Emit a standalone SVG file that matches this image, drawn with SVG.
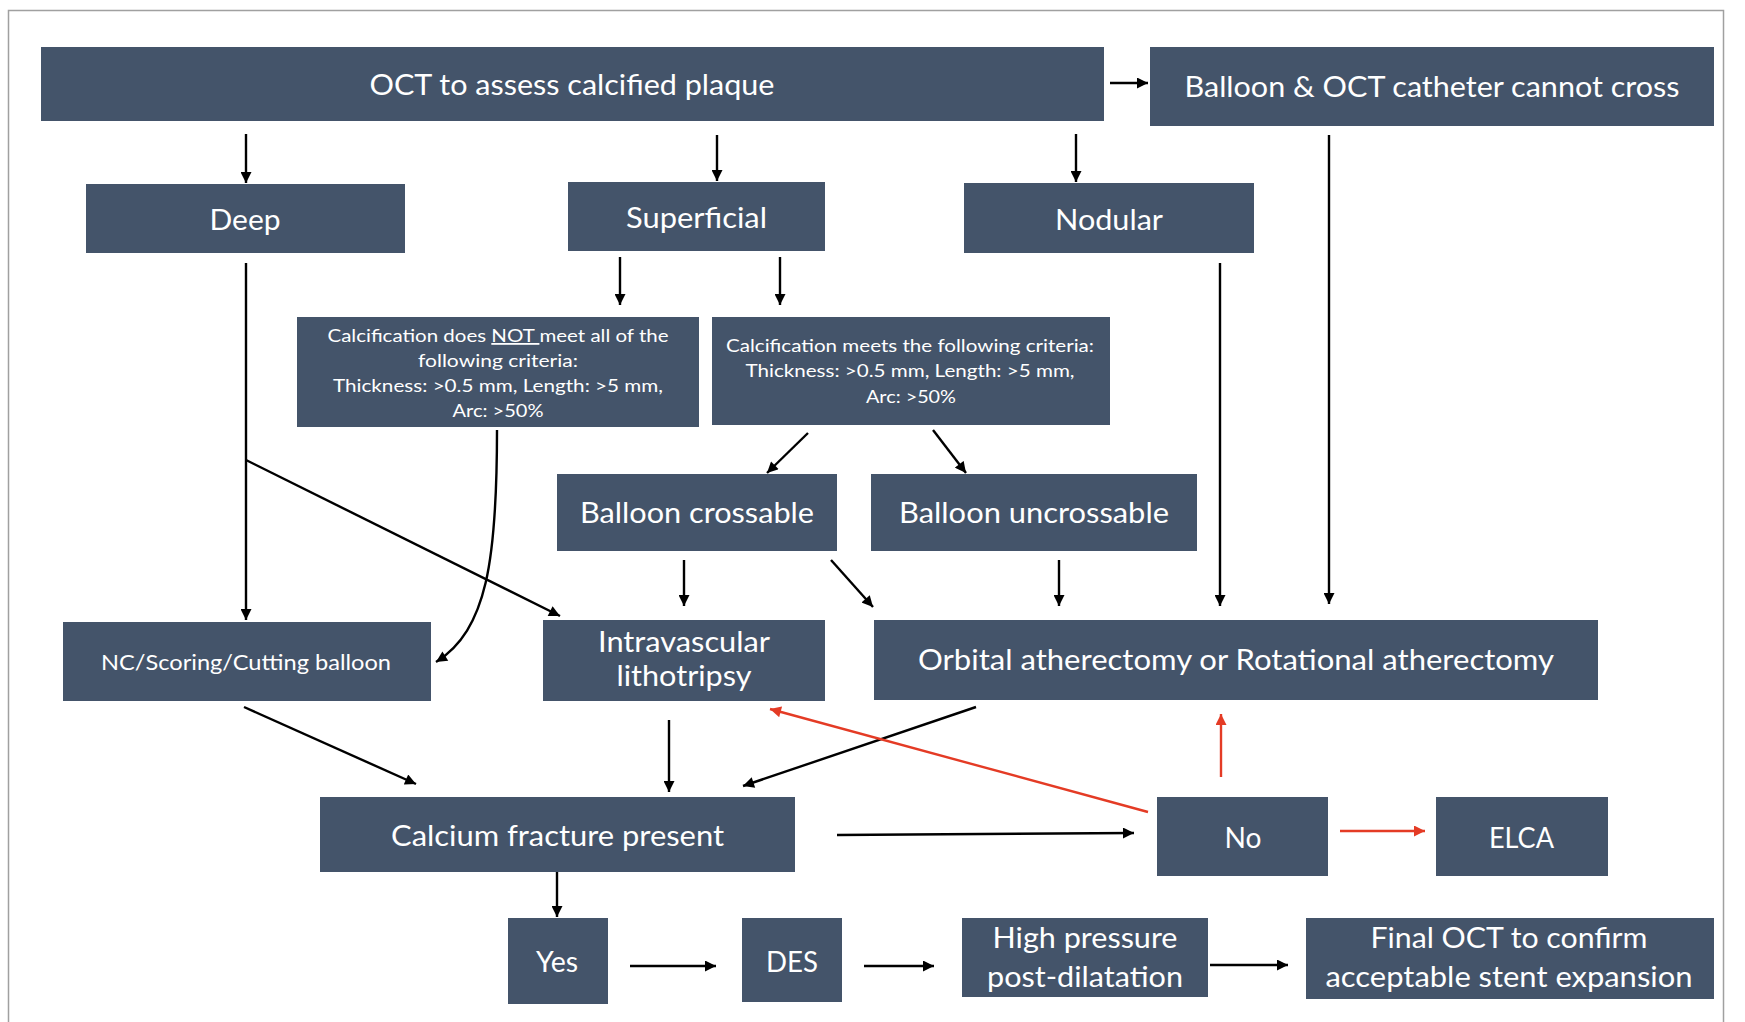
<svg xmlns="http://www.w3.org/2000/svg" width="1745" height="1022" viewBox="0 0 1745 1022">
<defs>
<style>
.n{fill:#44546A}
.t{fill:#FFFFFF;font-family:Lato,"Open Sans","Liberation Sans",sans-serif;text-anchor:middle}
.big{font-size:29px}
.mid{font-size:22px}
.sm{font-size:18px}
.c{fill:none;stroke:#000;stroke-width:2.4}
.r{fill:none;stroke:#E43B25;stroke-width:2.4}
</style>
<marker id="ah" viewBox="0 0 10 10" refX="10" refY="5" markerWidth="12" markerHeight="11" markerUnits="userSpaceOnUse" orient="auto"><path d="M0,0 L10,5 L0,10 z" fill="#000"/></marker>
<marker id="ahr" viewBox="0 0 10 10" refX="10" refY="5" markerWidth="12" markerHeight="11" markerUnits="userSpaceOnUse" orient="auto"><path d="M0,0 L10,5 L0,10 z" fill="#E43B25"/></marker>
</defs>
<rect width="1745" height="1022" fill="#fff"/>
<rect x="8.5" y="10.5" width="1715" height="1040" fill="none" stroke="#A0A0A0" stroke-width="1.5"/>

<g id="connectors">
<path class="c" d="M1110,83 L1148,83" marker-end="url(#ah)"/>
<path class="c" d="M246,134 L246,183" marker-end="url(#ah)"/>
<path class="c" d="M717,135 L717,181" marker-end="url(#ah)"/>
<path class="c" d="M1076,134 L1076,182" marker-end="url(#ah)"/>
<path class="c" d="M620,257 L620,305" marker-end="url(#ah)"/>
<path class="c" d="M780,257 L780,305" marker-end="url(#ah)"/>
<path class="c" d="M246,263 L246,620" marker-end="url(#ah)"/>
<path class="c" d="M246,460 L560,616" marker-end="url(#ah)"/>
<path class="c" d="M497,430 C497,560 487,630 436,662" marker-end="url(#ah)"/>
<path class="c" d="M808,433 L767,473" marker-end="url(#ah)"/>
<path class="c" d="M933,430 L966,473" marker-end="url(#ah)"/>
<path class="c" d="M1220,263 L1220,606" marker-end="url(#ah)"/>
<path class="c" d="M1329,135 L1329,604" marker-end="url(#ah)"/>
<path class="c" d="M684,560 L684,606" marker-end="url(#ah)"/>
<path class="c" d="M831,560 L873,607" marker-end="url(#ah)"/>
<path class="c" d="M1059,560 L1059,606" marker-end="url(#ah)"/>
<path class="c" d="M244,707 L416,784" marker-end="url(#ah)"/>
<path class="c" d="M669,720 L669,792" marker-end="url(#ah)"/>
<path class="c" d="M976,707 L743,786" marker-end="url(#ah)"/>
<path class="c" d="M837,835 L1134,833" marker-end="url(#ah)"/>
<path class="c" d="M557,872 L557,917" marker-end="url(#ah)"/>
<path class="c" d="M630,966 L716,966" marker-end="url(#ah)"/>
<path class="c" d="M864,966 L934,966" marker-end="url(#ah)"/>
<path class="c" d="M1210,965 L1288,965" marker-end="url(#ah)"/>
<path class="r" d="M1148,812 L770,709" marker-end="url(#ahr)"/>
<path class="r" d="M1221,777 L1221,714" marker-end="url(#ahr)"/>
<path class="r" d="M1340,831 L1425,831" marker-end="url(#ahr)"/>
</g>

<g id="oct"><rect class="n" x="41" y="47" width="1063" height="74"/><text class="t big" x="572" y="95" textLength="405" lengthAdjust="spacingAndGlyphs">OCT to assess calcified plaque</text></g>
<g id="cannotcross"><rect class="n" x="1150" y="47" width="564" height="79"/><text class="t big" x="1432" y="97" textLength="495" lengthAdjust="spacingAndGlyphs">Balloon &amp; OCT catheter cannot cross</text></g>
<g id="deep"><rect class="n" x="86" y="184" width="319" height="69"/><text class="t big" x="245" y="230" textLength="71" lengthAdjust="spacingAndGlyphs">Deep</text></g>
<g id="superficial"><rect class="n" x="568" y="182" width="257" height="69"/><text class="t big" x="696.5" y="228" textLength="141" lengthAdjust="spacingAndGlyphs">Superficial</text></g>
<g id="nodular"><rect class="n" x="964" y="183" width="290" height="70"/><text class="t big" x="1109" y="230" textLength="108" lengthAdjust="spacingAndGlyphs">Nodular</text></g>
<g id="notmeet"><rect class="n" x="297" y="317" width="402" height="110"/>
<text class="t sm" x="498" y="342" textLength="341" lengthAdjust="spacingAndGlyphs">Calcification does <tspan text-decoration="underline">NOT </tspan>meet all of the</text>
<text class="t sm" x="498" y="367" textLength="160" lengthAdjust="spacingAndGlyphs">following criteria:</text>
<text class="t sm" x="498" y="392" textLength="330" lengthAdjust="spacingAndGlyphs">Thickness: &gt;0.5 mm, Length: &gt;5 mm,</text>
<text class="t sm" x="498" y="417" textLength="91" lengthAdjust="spacingAndGlyphs">Arc: &gt;50%</text></g>
<g id="meets"><rect class="n" x="712" y="317" width="398" height="108"/>
<text class="t sm" x="910" y="352" textLength="368" lengthAdjust="spacingAndGlyphs">Calcification meets the following criteria:</text>
<text class="t sm" x="910" y="377" textLength="329" lengthAdjust="spacingAndGlyphs">Thickness: &gt;0.5 mm, Length: &gt;5 mm,</text>
<text class="t sm" x="911" y="403" textLength="90" lengthAdjust="spacingAndGlyphs">Arc: &gt;50%</text></g>
<g id="crossable"><rect class="n" x="557" y="474" width="280" height="77"/><text class="t big" x="697" y="523" textLength="234" lengthAdjust="spacingAndGlyphs">Balloon crossable</text></g>
<g id="uncrossable"><rect class="n" x="871" y="474" width="326" height="77"/><text class="t big" x="1034" y="523" textLength="270" lengthAdjust="spacingAndGlyphs">Balloon uncrossable</text></g>
<g id="nc"><rect class="n" x="63" y="622" width="368" height="79"/><text class="t mid" x="246" y="670" textLength="290" lengthAdjust="spacingAndGlyphs">NC/Scoring/Cutting balloon</text></g>
<g id="ivl"><rect class="n" x="543" y="620" width="282" height="81"/><text class="t big" x="684" y="652" textLength="172" lengthAdjust="spacingAndGlyphs">Intravascular</text><text class="t big" x="684" y="686" textLength="135" lengthAdjust="spacingAndGlyphs">lithotripsy</text></g>
<g id="atherectomy"><rect class="n" x="874" y="620" width="724" height="80"/><text class="t big" x="1236" y="670" textLength="636" lengthAdjust="spacingAndGlyphs">Orbital atherectomy or Rotational atherectomy</text></g>
<g id="fracture"><rect class="n" x="320" y="797" width="475" height="75"/><text class="t big" x="557.5" y="846" textLength="333" lengthAdjust="spacingAndGlyphs">Calcium fracture present</text></g>
<g id="yes"><rect class="n" x="508" y="918" width="100" height="86"/><text class="t big" x="557" y="972" textLength="42" lengthAdjust="spacingAndGlyphs">Yes</text></g>
<g id="des"><rect class="n" x="742" y="918" width="100" height="84"/><text class="t big" x="792" y="972" textLength="52" lengthAdjust="spacingAndGlyphs">DES</text></g>
<g id="no"><rect class="n" x="1157" y="797" width="171" height="79"/><text class="t big" x="1243" y="848" textLength="37" lengthAdjust="spacingAndGlyphs">No</text></g>
<g id="elca"><rect class="n" x="1436" y="797" width="172" height="79"/><text class="t big" x="1521.5" y="848" textLength="65" lengthAdjust="spacingAndGlyphs">ELCA</text></g>
<g id="highpressure"><rect class="n" x="962" y="918" width="246" height="79"/><text class="t big" x="1085" y="948" textLength="185" lengthAdjust="spacingAndGlyphs">High pressure</text><text class="t big" x="1085" y="987" textLength="196" lengthAdjust="spacingAndGlyphs">post-dilatation</text></g>
<g id="finaloct"><rect class="n" x="1306" y="918" width="408" height="81"/><text class="t big" x="1509" y="948" textLength="277" lengthAdjust="spacingAndGlyphs">Final OCT to confirm</text><text class="t big" x="1509" y="987" textLength="367" lengthAdjust="spacingAndGlyphs">acceptable stent expansion</text></g>
</svg>
